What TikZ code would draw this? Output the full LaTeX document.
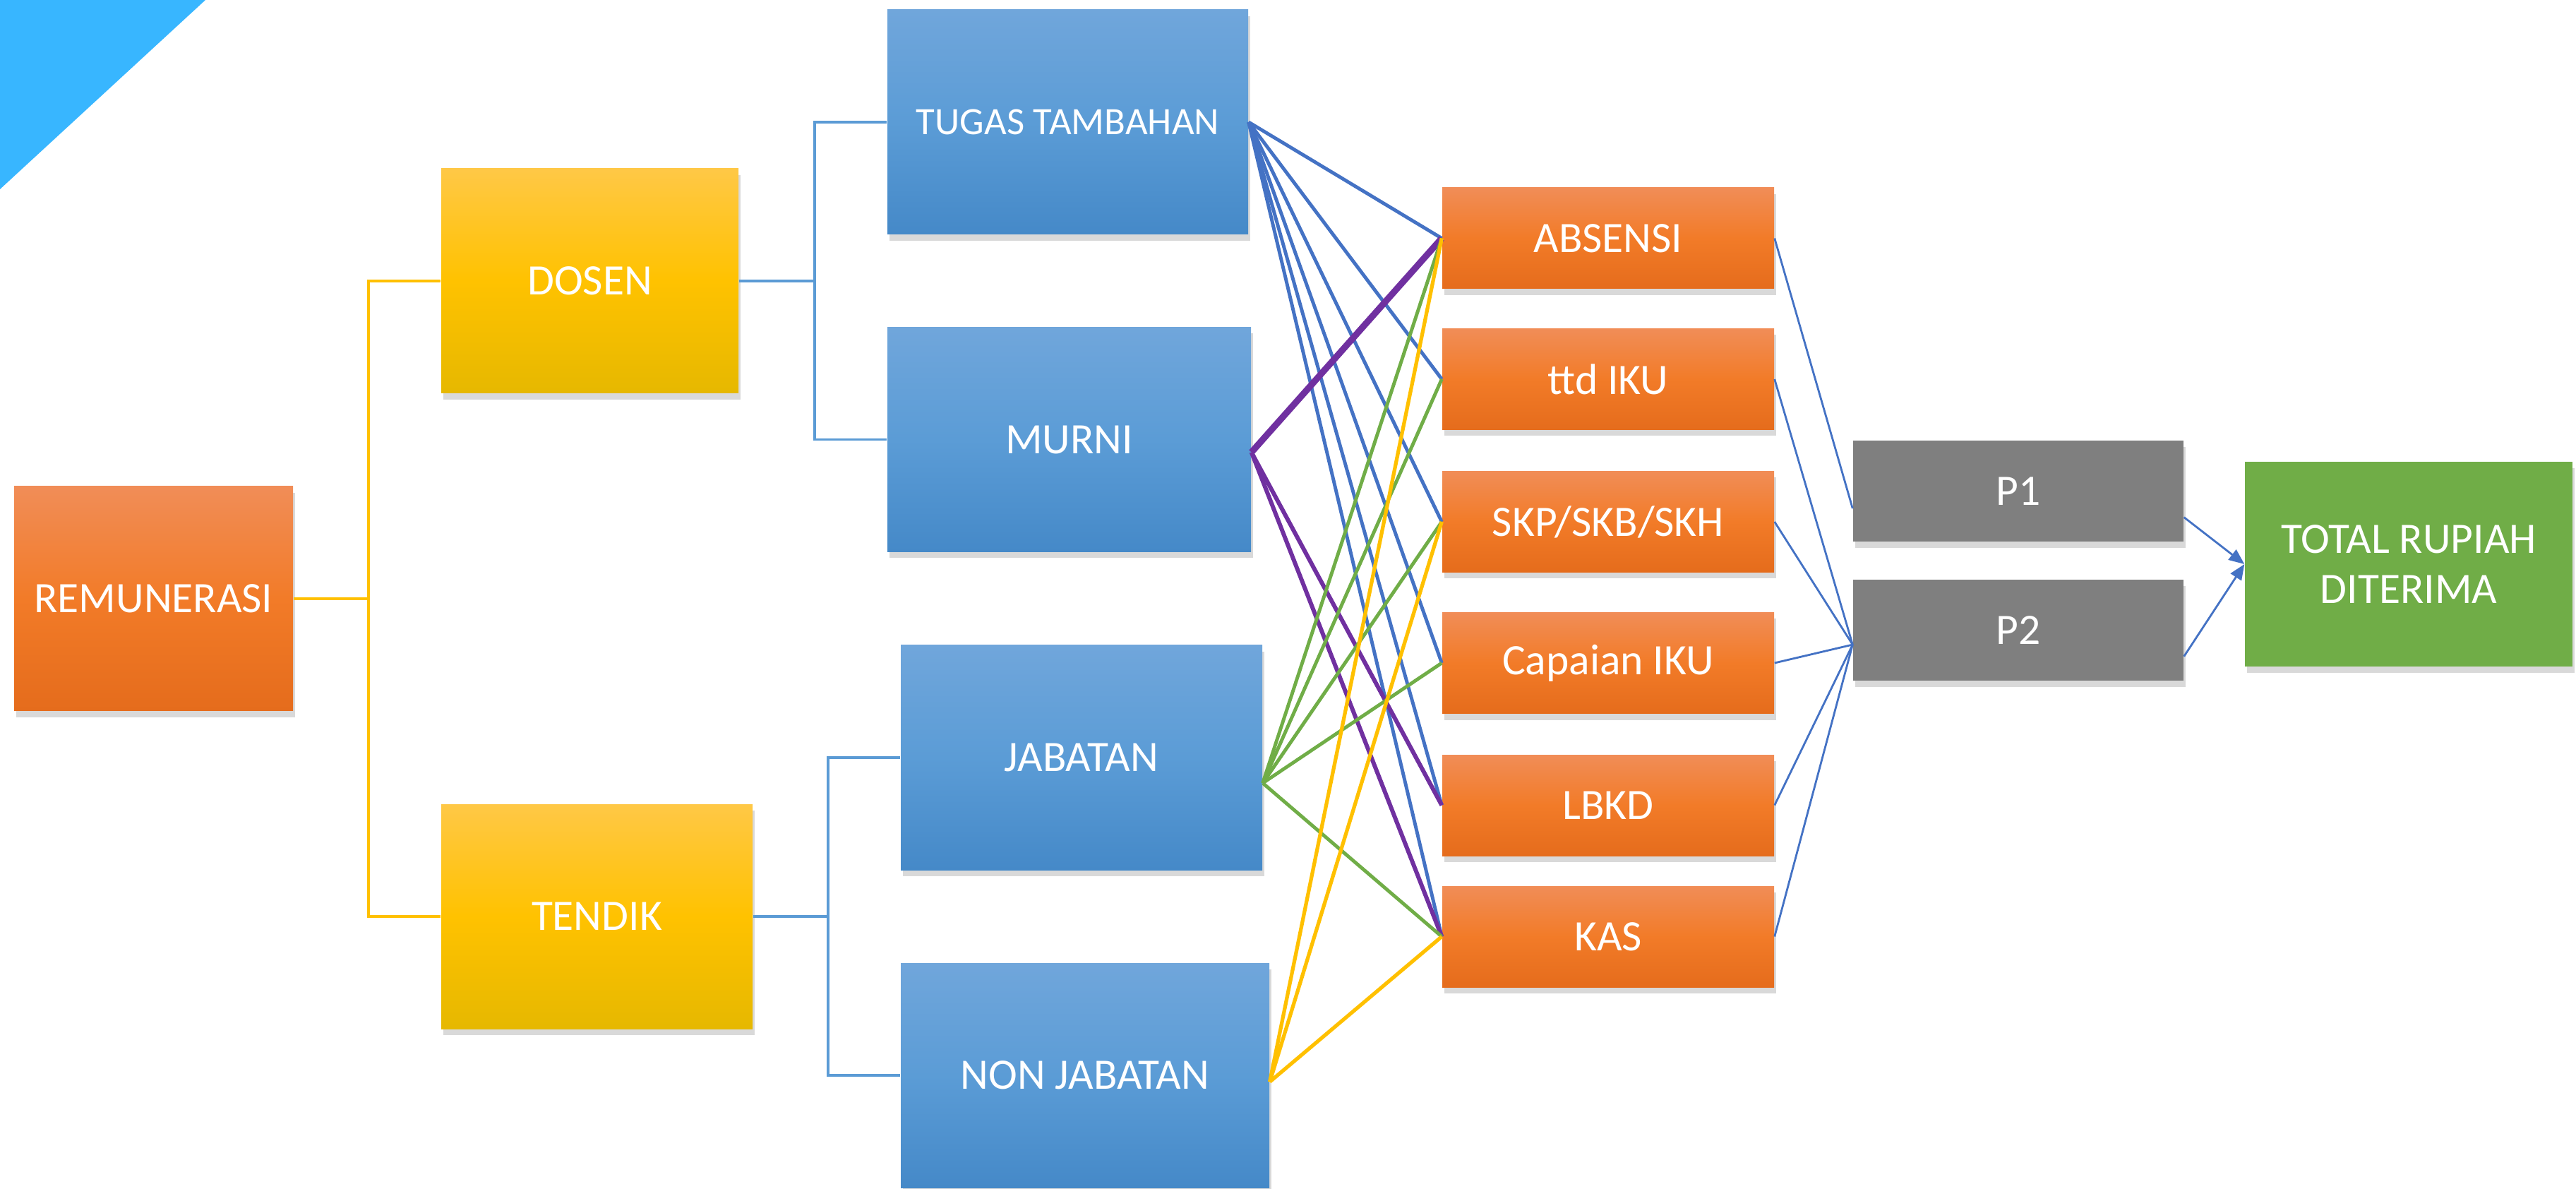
\documentclass[tikz,border=0pt]{standalone}
\usepackage{fontspec}
\setmainfont{Carlito}
\usetikzlibrary{shadows,arrows.meta}

\definecolor{cornerblue}{RGB}{56,182,255}
\definecolor{orangetop}{RGB}{241,141,87}
\definecolor{orangemid}{RGB}{242,123,40}
\definecolor{orangebot}{RGB}{229,108,28}
\definecolor{yellowtop}{RGB}{255,200,70}
\definecolor{yellowmid}{RGB}{255,194,0}
\definecolor{yellowbot}{RGB}{230,184,0}
\definecolor{bluetop}{RGB}{112,166,219}
\definecolor{bluemid}{RGB}{91,156,214}
\definecolor{bluebot}{RGB}{69,137,200}
\definecolor{boxgray}{RGB}{127,127,127}
\definecolor{boxgreen}{RGB}{112,173,71}
\definecolor{linkblue}{RGB}{68,114,196}
\definecolor{linkpurple}{RGB}{112,48,160}
\definecolor{linkgreen}{RGB}{112,173,71}
\definecolor{linkyellow}{RGB}{255,192,0}
\definecolor{treeblue}{RGB}{91,155,213}

\tikzset{
  card/.style={rectangle, inner sep=0pt, align=center, text=white,
    font=\fontsize{17.5}{20}\selectfont,
    drop shadow={shadow xshift=0.3mm, shadow yshift=-0.9mm, opacity=0.3}},
  orangebox/.style={card, top color=orangetop, bottom color=orangebot, middle color=orangemid},
  yellowbox/.style={card, top color=yellowtop, bottom color=yellowbot, middle color=yellowmid,
    minimum height=3.18cm},
  bluebox/.style={card, top color=bluetop, bottom color=bluebot, middle color=bluemid,
    minimum height=3.18cm},
  itembox/.style={orangebox, minimum width=4.70cm, minimum height=1.43cm},
  pbox/.style={card, fill=boxgray, minimum width=4.68cm, minimum height=1.43cm},
  treeyellow/.style={draw=linkyellow, line width=1.1pt},
  treeline/.style={draw=treeblue, line width=1.1pt},
  bluelink/.style={draw=linkblue, line width=1.4pt},
  purplelink/.style={draw=linkpurple, line width=1.7pt},
  greenlink/.style={draw=linkgreen, line width=1.4pt},
  yellowlink/.style={draw=linkyellow, line width=1.5pt},
  thinlink/.style={draw=linkblue, line width=0.8pt}
}

\begin{document}
\begin{tikzpicture}[y=-1cm]
  \useasboundingbox (0,0) rectangle (36.49,16.84);
  \fill[cornerblue] (0,0) -- (2.91,0) -- (0,2.68) -- cycle;

  \node[orangebox, minimum width=3.95cm, minimum height=3.18cm] (remun) at (2.175,8.48) {REMUNERASI};
  \node[yellowbox, minimum width=4.21cm] (dosen) at (8.355,3.98) {DOSEN};
  \node[yellowbox, minimum width=4.41cm] (tendik) at (8.455,12.98) {TENDIK};

  \node[bluebox, minimum width=5.11cm] (tugas) at (15.125,1.73) {\fontsize{15.6}{18}\selectfont TUGAS TAMBAHAN};
  \node[bluebox, minimum width=5.15cm] (murni) at (15.145,6.225) {MURNI};
  \node[bluebox, minimum width=5.12cm] (jabatan) at (15.32,10.73) {JABATAN};
  \node[bluebox, minimum width=5.22cm] (nonjab) at (15.37,15.23) {NON JABATAN};

  \node[itembox] (absensi) at (22.78,3.375) {ABSENSI};
  \node[itembox] (ttdiku) at (22.78,5.37) {ttd IKU};
  \node[itembox] (skp) at (22.78,7.39) {SKP/SKB/SKH};
  \node[itembox] (capaian) at (22.78,9.39) {Capaian IKU};
  \node[itembox] (lbkd) at (22.78,11.405) {LBKD};
  \node[itembox] (kas) at (22.78,13.265) {KAS};

  \node[pbox] (p1) at (28.59,6.955) {P1};
  \node[pbox] (p2) at (28.59,8.925) {P2};
  \node[card, fill=boxgreen, minimum width=4.64cm, minimum height=2.90cm] (total) at (34.12,7.99) {TOTAL RUPIAH\\DITERIMA};

  \draw[treeyellow] (remun.east) -- ++(1.06,0) coordinate (rj) |- (dosen.west);
  \draw[treeyellow] (rj) |- (tendik.west);
  \draw[treeline] (dosen.east) -- ++(1.07,0) coordinate (dj) |- (tugas.west);
  \draw[treeline] (dj) |- (murni.west);
  \draw[treeline] (tendik.east) -- ++(1.06,0) coordinate (tj) |- (jabatan.west);
  \draw[treeline] (tj) |- (nonjab.west);

  \draw[bluelink] (tugas.east) -- (absensi.west);
  \draw[bluelink] (tugas.east) -- (ttdiku.west);
  \draw[bluelink] (tugas.east) -- (skp.west);
  \draw[bluelink] (tugas.east) -- (capaian.west);
  \draw[bluelink] (tugas.east) -- (lbkd.west);
  \draw[bluelink] (tugas.east) -- (kas.west);

  \draw[purplelink, line width=2.6pt] (murni.-4) -- (absensi.west);
  \draw[purplelink] (murni.-4) -- (lbkd.west);
  \draw[purplelink] (murni.-4) -- (kas.west);

  \draw[greenlink] (jabatan.-8) -- (absensi.west);
  \draw[greenlink] (jabatan.-8) -- (ttdiku.west);
  \draw[greenlink] (jabatan.-8) -- (skp.west);
  \draw[greenlink] (jabatan.-8) -- (capaian.west);
  \draw[greenlink] (jabatan.-8) -- (kas.west);

  \draw[yellowlink] (nonjab.-2) -- (absensi.west);
  \draw[yellowlink] (nonjab.-2) -- (skp.west);
  \draw[yellowlink] (nonjab.-2) -- (kas.west);

  \draw[thinlink] (absensi.east) -- (p1.186);
  \draw[thinlink] (ttdiku.east) -- (p2.185);
  \draw[thinlink] (skp.east) -- (p2.185);
  \draw[thinlink] (capaian.east) -- (p2.185);
  \draw[thinlink] (lbkd.east) -- (p2.185);
  \draw[thinlink] (kas.east) -- (p2.185);

  \draw[thinlink, -{Triangle[length=2.2mm, width=1.8mm]}] (p1.-9) -- (total.west);
  \draw[thinlink, -{Triangle[length=2.2mm, width=1.8mm]}] (p2.-9) -- (total.west);
\end{tikzpicture}
\end{document}
